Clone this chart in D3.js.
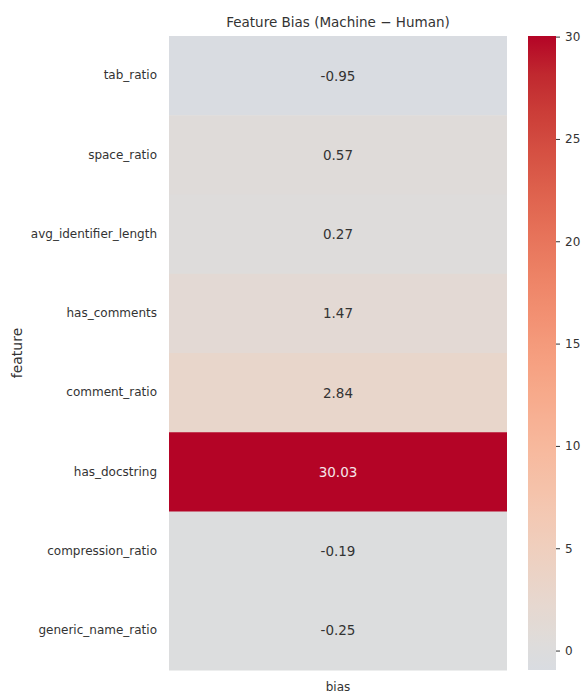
<!DOCTYPE html>
<html>
<head>
<meta charset="utf-8">
<script src="https://cdn.jsdelivr.net/npm/d3@7"></script>
<style>
  html, body { margin: 0; padding: 0; background: #ffffff; }
  svg { display: block; font-family: "DejaVu Sans", sans-serif; }
</style>
</head>
<body>
<svg id="chart" width="581" height="696"></svg>
<script>
// Feature bias values (machine minus human), one row per feature
const features = ["tab_ratio", "space_ratio", "avg_identifier_length", "has_comments",
                  "comment_ratio", "has_docstring", "compression_ratio", "generic_name_ratio"];
const bias = [-0.95, 0.57, 0.27, 1.47, 2.84, 30.03, -0.19, -0.25];
const columns = ["bias"];
const colorbarTicks = [0, 5, 10, 15, 20, 25, 30];

// Diverging "coolwarm" colour ramp (Moreland), sampled at even stops
const coolwarm = [
  [0.2298, 0.2987, 0.7537], [0.2662, 0.3531, 0.8015], [0.3039, 0.4065, 0.8450], [0.3428, 0.4588, 0.8837],
  [0.3830, 0.5094, 0.9174], [0.4244, 0.5581, 0.9456], [0.4667, 0.6046, 0.9682], [0.5096, 0.6483, 0.9848],
  [0.5530, 0.6889, 0.9954], [0.5963, 0.7261, 0.9998], [0.6392, 0.7596, 0.9982], [0.6813, 0.7890, 0.9904],
  [0.7222, 0.8140, 0.9766], [0.7615, 0.8343, 0.9569], [0.7987, 0.8498, 0.9317], [0.8335, 0.8602, 0.9011],
  [0.8654, 0.8654, 0.8654], [0.8978, 0.8489, 0.8209], [0.9241, 0.8274, 0.7745], [0.9445, 0.8009, 0.7267],
  [0.9589, 0.7698, 0.6780], [0.9673, 0.7341, 0.6288], [0.9700, 0.6943, 0.5794], [0.9668, 0.6504, 0.5303],
  [0.9580, 0.6028, 0.4818], [0.9437, 0.5518, 0.4342], [0.9239, 0.4973, 0.3880], [0.8990, 0.4396, 0.3432],
  [0.8692, 0.3783, 0.3003], [0.8346, 0.3129, 0.2593], [0.7956, 0.2413, 0.2205], [0.7525, 0.1572, 0.1841],
  [0.7057, 0.0156, 0.1502]
];
const rampColor = d3.scaleLinear()
  .domain(coolwarm.map((_, i) => i / (coolwarm.length - 1)))
  .range(coolwarm.map(c => d3.rgb(c[0] * 255, c[1] * 255, c[2] * 255)))
  .interpolate(d3.interpolateRgb)
  .clamp(true);

// Colour scale centred on zero, symmetric about the centre
const vmin = d3.min(bias), vmax = d3.max(bias);
const vrange = Math.max(vmax, -vmin);
const t = d3.scaleLinear().domain([-vrange, vrange]).range([0, 1]);
const color = v => rampColor(t(v));

// Two-decimal labels with a plain hyphen for negatives
const fmt = d3.formatLocale({ decimal: ".", thousands: ",", grouping: [3], currency: ["", ""], minus: "-" }).format(".2f");

const svg = d3.select("#chart");
const textColor = "#333333";

const plot = { left: 169, right: 507, top: 36, bottom: 670 };
const x = d3.scaleBand().domain(columns).range([plot.left, plot.right]);
const y = d3.scaleBand().domain(features).range([plot.top, plot.bottom]);

// Heatmap cells
const rows = features.map((f, i) => ({ feature: f, value: bias[i] }));
svg.append("g").selectAll("rect").data(rows).join("rect")
  .attr("x", x("bias"))
  .attr("y", d => y(d.feature))
  .attr("width", x.bandwidth())
  .attr("height", y.bandwidth() + 0.5)
  .attr("fill", d => color(d.value));

// Cell annotations
svg.append("g").selectAll("text").data(rows).join("text")
  .attr("x", x("bias") + x.bandwidth() / 2)
  .attr("y", d => y(d.feature) + y.bandwidth() / 2)
  .attr("text-anchor", "middle")
  .attr("dominant-baseline", "central")
  .attr("font-size", 13.5)
  .attr("fill", d => d3.hsl(color(d.value)).l < 0.5 ? "#f5e6ea" : textColor)
  .text(d => fmt(d.value));

// Y axis (feature names)
const yAxis = svg.append("g")
  .attr("transform", `translate(${plot.left},0)`)
  .call(d3.axisLeft(y).tickSize(0).tickPadding(12));
yAxis.select(".domain").remove();
yAxis.selectAll("text").attr("font-size", 12).attr("fill", textColor)
  .attr("font-family", "DejaVu Sans, sans-serif");

// X axis (column name)
const xAxis = svg.append("g")
  .attr("transform", `translate(0,${plot.bottom})`)
  .call(d3.axisBottom(x).tickSize(0).tickPadding(12));
xAxis.select(".domain").remove();
xAxis.selectAll("text").attr("font-size", 12).attr("fill", textColor)
  .attr("font-family", "DejaVu Sans, sans-serif");

// Axis titles and chart title
svg.append("text")
  .attr("transform", `translate(22,${(plot.top + plot.bottom) / 2}) rotate(-90)`)
  .attr("text-anchor", "middle")
  .attr("font-size", 14)
  .attr("fill", textColor)
  .text("feature");

svg.append("text")
  .attr("x", (plot.left + plot.right) / 2)
  .attr("y", 27)
  .attr("text-anchor", "middle")
  .attr("font-size", 13.5)
  .attr("fill", textColor)
  .text("Feature Bias (Machine \u2212 Human)");

// Colour bar
const cb = { left: 528, width: 28 };
const cbScale = d3.scaleLinear().domain([vmin, vmax]).range([plot.bottom, plot.top]);
const defs = svg.append("defs");
const grad = defs.append("linearGradient")
  .attr("id", "cbgrad").attr("x1", 0).attr("y1", 1).attr("x2", 0).attr("y2", 0);
d3.range(0, 1.0001, 0.02).forEach(p => {
  grad.append("stop").attr("offset", p).attr("stop-color", color(vmin + p * (vmax - vmin)));
});
svg.append("rect")
  .attr("x", cb.left).attr("y", plot.top)
  .attr("width", cb.width).attr("height", plot.bottom - plot.top)
  .attr("fill", "url(#cbgrad)");

const cbAxis = svg.append("g")
  .attr("transform", `translate(${cb.left + cb.width},0)`)
  .call(d3.axisRight(cbScale).tickValues(colorbarTicks).tickSize(4).tickPadding(5));
cbAxis.select(".domain").remove();
cbAxis.selectAll("line").attr("stroke", textColor);
cbAxis.selectAll("text").attr("font-size", 12).attr("fill", textColor)
  .attr("font-family", "DejaVu Sans, sans-serif");
</script>
</body>
</html>
